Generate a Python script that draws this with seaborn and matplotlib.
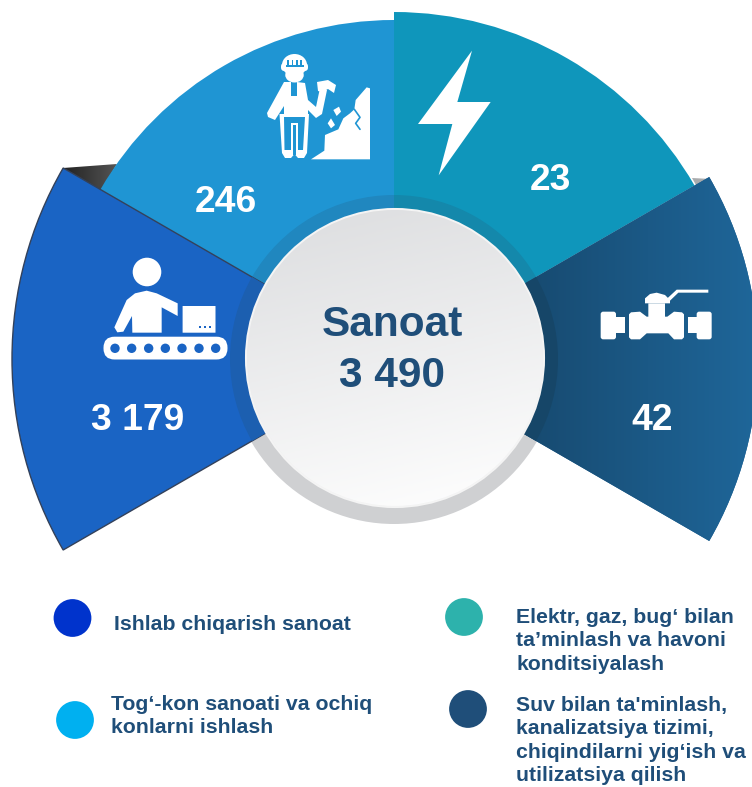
import numpy as np
import seaborn as sns
import matplotlib
matplotlib.use("Agg")
import matplotlib.pyplot as plt
from matplotlib.patches import Wedge, Circle, Polygon, FancyBboxPatch, Rectangle, Ellipse
from matplotlib.colors import LinearSegmentedColormap as LSC
import pandas as pd

sns.set_theme(style="white")
plt.rcParams['font.family'] = ['Liberation Sans', 'DejaVu Sans']

# ---- data -----------------------------------------------------------------
total_title = "Sanoat"
total_value = "3 490"
sector_labels = ["3 179", "246", "23", "42"]
sector_theta1 = [150, 90, 30, -30]
sector_theta2 = [210, 150, 90, 30]
sector_radius = [382, 339, 347, 364]
sector_colors = ["#1a64c4", "#1f95d3", "#0f96bb", "#1d5e90"]
ring_colors = ["#1c5fb0", "#2087bf", "#1488ab", "#164668"]
label_x = [138, 226, 550, 652]
label_y = [421, 203, 181, 421]

legend_labels = [
    "Ishlab chiqarish sanoat",
    "Tog\u2018-kon sanoati va ochiq\nkonlarni ishlash",
    "Elektr, gaz, bug\u2018 bilan\nta\u2019minlash va havoni\nkonditsiyalash",
    "Suv bilan ta'minlash,\nkanalizatsiya tizimi,\nchiqindilarni yig\u2018ish va\nutilizatsiya qilish",
]
legend_colors = ["#0033cc", "#00b0f0", "#2db2ac", "#1f4e79"]
legend_dot_x = [72.5, 75, 464, 468]
legend_dot_y = [618, 720, 617, 709]
legend_text_x = [114, 111, 516, 516]
legend_text_y = [624, 716, 641, 740.5]

W, H = 752, 787
TEXT = "#1f4e79"
CX, CY = 394, 359


def Y(py):
    return H - py


def P(points, sx=1.0, ox=0.0, oy=0.0):
    return [(ox + x * sx, Y(oy + y * sx)) for x, y in points]


fig = plt.figure(figsize=(W / 100, H / 100), dpi=100)
ax = fig.add_axes([0, 0, 1, 1])

# shadow behind the centre disc
ax.add_patch(Circle((CX, Y(CY)), 165, fc="#cfd0d2", ec="none", zorder=1))

# dark folds behind the top sectors
fold = Polygon(P([(63, 168), (117, 164), (100, 192)]), closed=True, fc="none", ec="none", zorder=2)
ax.add_patch(fold)
im = ax.imshow(np.linspace(0, 1, 64).reshape(1, -1), extent=(63, 118, Y(195), Y(162)),
               cmap=LSC.from_list("f", ["#222222", "#555555"]), aspect="auto", zorder=2)
im.set_clip_path(fold)
ax.add_patch(Polygon(P([(692, 178), (711, 179), (700, 192)]), closed=True, fc="#a9abad", ec="none", zorder=2))

# sectors
for i, (t1, t2, r, c, rc) in enumerate(zip(sector_theta1, sector_theta2, sector_radius, sector_colors, ring_colors)):
    z = {0: 5, 1: 3, 2: 4, 3: 5}[i]
    w = Wedge((CX, Y(CY)), r, t1, t2, fc=c, ec="none", zorder=z)
    ax.add_patch(w)
    if i == 3:
        g = ax.imshow(np.linspace(0, 1, 128).reshape(1, -1), extent=(CX + 130, W + 20, Y(560), Y(160)),
                      cmap=LSC.from_list("r", ["#174a70", "#1f689c"]), aspect="auto", zorder=z)
        g.set_clip_path(w)
    if i == 0:
        w.set_edgecolor("#33415a")
        w.set_linewidth(1.0)
    ax.add_patch(Wedge((CX, Y(CY)), 164, t1, t2, fc=rc, ec="none", zorder=z + 0.5))

# centre disc
ax.add_patch(Circle((395, Y(358)), 149, fc="#eeeeef", ec="#f4f4f4", lw=1.5, zorder=7))
xx, yy = np.meshgrid(np.linspace(0, 1, 128), np.linspace(0, 1, 128))
g = ax.imshow(yy * 0.8 + xx * 0.2, extent=(246, 544, Y(507), Y(209)), origin="upper",
              cmap=LSC.from_list("d", ["#dcdddf", "#ffffff"]), aspect="auto", zorder=7.1)
g.set_clip_path(Circle((395, Y(358)), 148, transform=ax.transData))

# value labels
for s, x, y in zip(sector_labels, label_x, label_y):
    ax.text(x, Y(y), s, color="white", fontsize=26.8, fontweight="bold", ha="center", va="center", zorder=10)
ax.text(392, Y(325), total_title, color=TEXT, fontsize=30.5, fontweight="bold", ha="center", va="center", zorder=10)
ax.text(392, Y(376), total_value, color=TEXT, fontsize=30.5, fontweight="bold", ha="center", va="center", zorder=10)

WH = "white"
Z = 9
BLUE = sector_colors[1]


def poly(points, sx=1 / 3, ox=0, oy=0, c=WH, z=Z):
    ax.add_patch(Polygon(P(points, sx, ox, oy), closed=True, fc=c, ec="none", zorder=z))


def rrect(x0, y0, x1, y1, rad=2, c=WH, z=Z):
    ax.add_patch(FancyBboxPatch((x0 + rad, Y(y1) + rad), x1 - x0 - 2 * rad, y1 - y0 - 2 * rad,
                                boxstyle=f"round,pad={rad}", fc=c, ec="none", zorder=z))


def rect(x0, y0, x1, y1, c=WH, z=Z):
    ax.add_patch(Rectangle((x0, Y(y1)), x1 - x0, y1 - y0, fc=c, ec="none", zorder=z))


# conveyor worker icon
ax.add_patch(Circle((147, Y(272)), 14.3, fc=WH, ec="none", zorder=Z))
poly([(343, 232), (352, 247), (370, 245), (396, 198), (397, 248), (485, 248), (485, 172), (533, 198), (533, 160),
      (470, 130), (440, 122), (405, 130), (380, 150)], oy=250)
rrect(182.6, 306, 215.5, 332.7, 0.2)
for x in (600, 615, 630):
    rect(x / 3 - 1, 250 + 232 / 3 - 1, x / 3 + 1, 250 + 232 / 3 + 1, c=sector_colors[0], z=Z + 0.2)
rrect(103.5, 336.7, 227.5, 359.5, 11)
for x in (345, 395, 446, 496, 546, 597, 647):
    ax.add_patch(Circle((x / 3, Y(348.3)), 4.7, fc=sector_colors[0], ec="none", zorder=Z + 0.2))

# valve icon (points in a 3x view of the icon)
ox, oy = 590, 280
rrect(ox + 32 / 3, oy + 95 / 3, ox + 78 / 3, oy + 178 / 3, 2.5)
poly([(75, 112), (105, 112), (105, 158), (75, 158)], ox=ox, oy=oy)
poly([(123, 97), (150, 95), (170, 110), (175, 110), (175, 70), (225, 70), (225, 110), (232, 110), (252, 95), (276, 97),
      (282, 103), (282, 172), (276, 178), (252, 178), (235, 160), (170, 160), (150, 178), (123, 178), (117, 172), (117, 103)],
     ox=ox, oy=oy)
poly([(295, 112), (325, 112), (325, 158), (295, 158)], ox=ox, oy=oy)
rrect(ox + 320 / 3, oy + 95 / 3, ox + 365 / 3, oy + 178 / 3, 2.5)
poly([(165, 70), (165, 55), (180, 42), (200, 38), (225, 45), (240, 60), (240, 70)], ox=ox, oy=oy)
poly([(232, 55), (260, 29), (355, 29), (355, 38), (265, 38), (240, 62)], ox=ox, oy=oy)

# lightning bolt
poly([(288, 152), (244, 306), (344, 306), (188, 526), (229, 372), (126, 372)], ox=376)

# miner icon: helmet and face
ax.add_patch(Ellipse((294.5, Y(65)), 25, 22, fc=WH, ec="none", zorder=Z))
rrect(281, 63, 308, 71, 3.5)
rect(285.5, 65, 303.5, 66.7, c=BLUE, z=Z + 0.2)
for x in (288, 292.5, 297, 301):
    rect(x - 0.7, 60, x + 0.7, 66, c=BLUE, z=Z + 0.2)
ax.add_patch(Ellipse((294.5, Y(75)), 18.5, 15, fc=WH, ec="none", zorder=Z))
# miner body
poly([(284, 82), (291, 82), (291, 115), (284, 115), (284, 106), (275, 120), (268, 117), (267, 113)], sx=1)
poly([(297, 82), (305, 83), (308, 100), (316, 107), (320, 88), (327, 90), (322, 114), (316, 118), (308, 110), (308, 115), (297, 115)], sx=1)
rect(290, 96, 298, 115)
poly([(317, 82), (328, 80), (336, 85), (334, 93), (328, 89), (322, 92), (318, 91)], sx=1)
# trousers: white outline, blue inside, white slit
poly([(279.5, 114), (309, 114), (307, 153), (304, 158), (298, 158), (294.5, 154), (291, 158), (285, 158), (282, 153)], sx=1)
poly([(284, 117), (305, 117), (303, 150), (284.5, 150)], sx=1, c=BLUE, z=Z + 0.1)
rect(290.5, 123, 298, 153, z=Z + 0.2)
rect(292.7, 125, 295.8, 155, c=BLUE, z=Z + 0.3)

# rocks and rock face
ox, oy = 315, 80
poly([(155, 22), (165, 25), (165, 238), (-12, 238), (28, 212), (30, 165), (70, 148), (85, 115), (105, 100), (118, 88), (122, 60)],
     ox=ox, oy=oy)
ax.plot([315 + 118 / 3, 315 + 135 / 3, 315 + 122 / 3, 315 + 135 / 3],
        [Y(80 + 88 / 3), Y(80 + 112 / 3), Y(80 + 130 / 3), Y(80 + 148 / 3)], color=BLUE, lw=1.2, zorder=Z + 0.1)
poly([(55, 90), (72, 80), (78, 95), (65, 108)], ox=ox, oy=oy)
poly([(38, 130), (48, 115), (60, 135), (48, 145)], ox=ox, oy=oy)

# legend dots drawn through seaborn
dots = pd.DataFrame({"x": legend_dot_x, "y": [Y(v) for v in legend_dot_y], "label": legend_labels})
sns.scatterplot(data=dots, x="x", y="y", hue="label", palette=legend_colors, s=740, linewidth=0, legend=False, ax=ax, zorder=6)

for s, x, y in zip(legend_labels, legend_text_x, legend_text_y):
    ax.text(x, Y(y), s, color=TEXT, fontsize=15.3, fontweight="bold", ha="left", va="center", linespacing=1.29, zorder=6)

ax.set_xlim(0, W)
ax.set_ylim(0, H)
ax.axis("off")
fig.savefig("out.png", dpi=100, facecolor="white")
